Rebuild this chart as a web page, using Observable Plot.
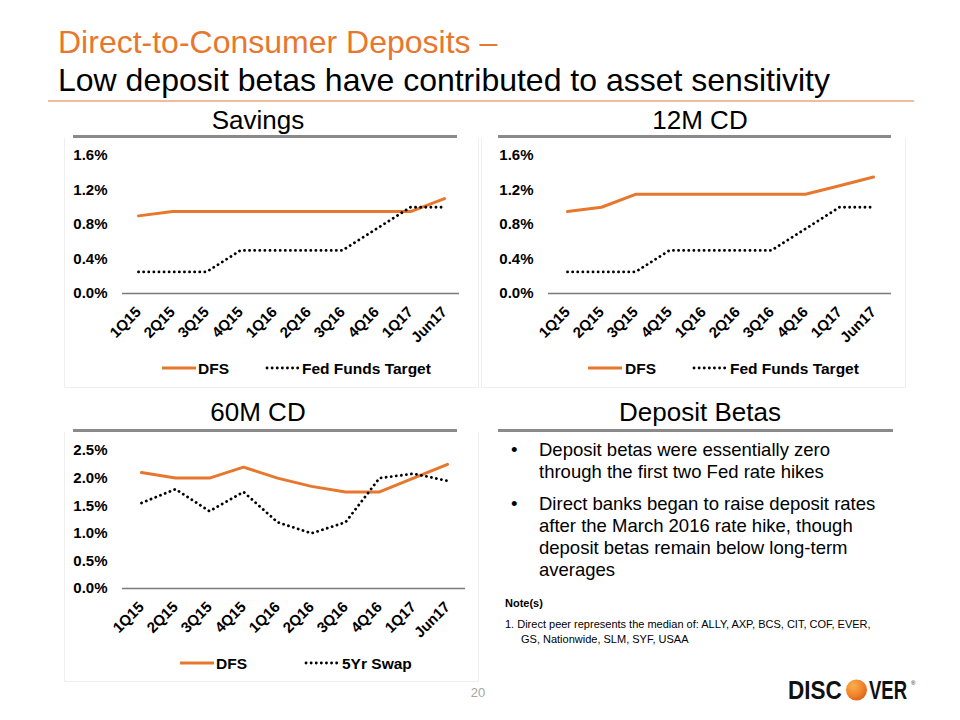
<!DOCTYPE html>
<html>
<head>
<meta charset="utf-8">
<script src="https://cdn.jsdelivr.net/npm/d3@7"></script>
<script src="https://cdn.jsdelivr.net/npm/@observablehq/plot@0.6"></script>
<style>
  html, body { margin: 0; padding: 0; background: #fff; }
  #page { position: relative; width: 960px; height: 720px; overflow: hidden; font-family: "Liberation Sans", Arial, sans-serif; }
  #overlay { position: absolute; left: 0; top: 0; }
  .chart { position: absolute; }
  .chart svg { overflow: visible; }
</style>
</head>
<body>
<div id="page">
  <svg id="overlay" width="960" height="720" font-family="Liberation Sans, Arial, sans-serif">
    <defs>
      <radialGradient id="discO" cx="0.35" cy="0.3" r="0.8">
        <stop offset="0" stop-color="#FBB04C"/>
        <stop offset="0.6" stop-color="#F0812A"/>
        <stop offset="1" stop-color="#DD5A14"/>
      </radialGradient>
    </defs>
    <!-- faint chart boxes -->
    <path d="M64.5,138V387.5H478.5V138" fill="none" stroke="#eeeeee" stroke-width="1"/>
    <path d="M481.5,138V387.5H905.5V138" fill="none" stroke="#eeeeee" stroke-width="1"/>
    <path d="M64.5,432V681.5H478.5V432" fill="none" stroke="#eeeeee" stroke-width="1"/>

    <!-- title -->
    <text x="58" y="53" font-size="32" fill="#E8772E">Direct-to-Consumer Deposits –</text>
    <text x="58" y="91" font-size="32" fill="#000">Low deposit betas have contributed to asset sensitivity</text>
    <line x1="48" x2="914" y1="101" y2="101" stroke="#E9A77A" stroke-width="1.5"/>

    <!-- panel headings -->
    <text x="258" y="129" font-size="26" text-anchor="middle">Savings</text>
    <text x="700" y="129" font-size="26" text-anchor="middle">12M CD</text>
    <text x="258" y="421" font-size="26" text-anchor="middle">60M CD</text>
    <text x="700" y="421" font-size="26" text-anchor="middle">Deposit Betas</text>
    <line x1="73" x2="457" y1="136.5" y2="136.5" stroke="#8a8a8a" stroke-width="3"/>
    <line x1="498" x2="891" y1="136.5" y2="136.5" stroke="#8a8a8a" stroke-width="3"/>
    <line x1="73" x2="457" y1="430.5" y2="430.5" stroke="#8a8a8a" stroke-width="3"/>
    <line x1="498" x2="893" y1="430.5" y2="430.5" stroke="#8a8a8a" stroke-width="3"/>

    <!-- legends -->
    <g font-size="15.5" font-weight="bold">
      <line x1="162" x2="196" y1="368" y2="368" stroke="#E8772E" stroke-width="3"/>
      <text x="198" y="373.5">DFS</text>
      <line x1="267" x2="298" y1="368" y2="368" stroke="#000" stroke-width="2.8" stroke-linecap="round" stroke-dasharray="0.1,5"/>
      <text x="302" y="373.5">Fed Funds Target</text>

      <line x1="588" x2="622" y1="368" y2="368" stroke="#E8772E" stroke-width="3"/>
      <text x="625" y="373.5">DFS</text>
      <line x1="694" x2="725" y1="368" y2="368" stroke="#000" stroke-width="2.8" stroke-linecap="round" stroke-dasharray="0.1,5"/>
      <text x="730" y="373.5">Fed Funds Target</text>

      <line x1="180" x2="214" y1="663" y2="663" stroke="#E8772E" stroke-width="3"/>
      <text x="216" y="668.5">DFS</text>
      <line x1="306" x2="337" y1="663" y2="663" stroke="#000" stroke-width="2.8" stroke-linecap="round" stroke-dasharray="0.1,5"/>
      <text x="342" y="668.5">5Yr Swap</text>
    </g>

    <!-- Deposit betas text -->
    <g font-size="18.5" fill="#000">
      <text x="511" y="456">•</text>
      <text x="539" y="456">Deposit betas were essentially zero</text>
      <text x="539" y="478">through the first two Fed rate hikes</text>
      <text x="511" y="510">•</text>
      <text x="539" y="510">Direct banks began to raise deposit rates</text>
      <text x="539" y="532">after the March 2016 rate hike, though</text>
      <text x="539" y="554">deposit betas remain below long-term</text>
      <text x="539" y="576">averages</text>
    </g>
    <text x="505" y="607" font-size="11" font-weight="bold">Note(s)</text>
    <g font-size="11">
      <text x="505" y="628">1. Direct peer represents the median of:  ALLY, AXP, BCS, CIT, COF, EVER,</text>
      <text x="521" y="643">GS, Nationwide,  SLM, SYF, USAA</text>
    </g>

    <!-- page number -->
    <text x="478" y="697" font-size="13" fill="#a6a6a6" text-anchor="middle">20</text>

    <!-- logo -->
    <g font-size="26.5" font-weight="bold" fill="#111">
      <text transform="translate(788,699) scale(0.85,1)">DISC</text>
      <circle cx="856.5" cy="690" r="10.5" fill="url(#discO)"/>
      <text transform="translate(869,699) scale(0.70,1)">VER</text>
    </g>
    <text x="911" y="685" font-size="6" fill="#111">®</text>
  </svg>

  <div id="savings" class="chart" style="left:60px; top:140px;"></div>
  <div id="cd12" class="chart" style="left:480px; top:140px;"></div>
  <div id="cd60" class="chart" style="left:60px; top:440px;"></div>
</div>

<script>
// ---- data ----
const quarters = ["1Q15","2Q15","3Q15","4Q15","1Q16","2Q16","3Q16","4Q16","1Q17","Jun17"];

const savingsDFS      = [0.90, 0.95, 0.95, 0.95, 0.95, 0.95, 0.95, 0.95, 0.95, 1.10];
const savingsFedFunds = [0.25, 0.25, 0.25, 0.50, 0.50, 0.50, 0.50, 0.75, 1.00, 1.00];

const cd12DFS      = [0.95, 1.00, 1.15, 1.15, 1.15, 1.15, 1.15, 1.15, 1.25, 1.35];
const cd12FedFunds = [0.25, 0.25, 0.25, 0.50, 0.50, 0.50, 0.50, 0.75, 1.00, 1.00];

const cd60DFS  = [2.10, 2.00, 2.00, 2.20, 2.00, 1.85, 1.75, 1.75, 2.00, 2.25];
const cd60Swap = [1.55, 1.80, 1.40, 1.75, 1.20, 1.00, 1.20, 2.00, 2.08, 1.95];

const savingsTicks = [0, 0.4, 0.8, 1.2, 1.6];
const cd12Ticks    = [0, 0.4, 0.8, 1.2, 1.6];
const cd60Ticks    = [0, 0.5, 1.0, 1.5, 2.0, 2.5];

const ORANGE = "#E8772E";

function lineChart({dfs, other, ticks, width, height, marginLeft, marginRight, marginTop, marginBottom}) {
  const dfsData = quarters.map((q, i) => ({q, v: dfs[i]}));
  const otherData = quarters.map((q, i) => ({q, v: other[i]}));
  return Plot.plot({
    width, height, marginLeft, marginRight, marginTop, marginBottom,
    style: {fontFamily: "Liberation Sans, Arial, sans-serif", fontSize: "15px", fontWeight: "bold", color: "#000", background: "transparent", overflow: "visible"},
    x: {type: "point", domain: quarters, padding: 0.45, label: null, tickSize: 0, tickRotate: -45, tickPadding: 16},
    y: {domain: [ticks[0], ticks[ticks.length - 1]], ticks, tickFormat: d => d.toFixed(1) + "%", tickSize: 0, tickPadding: 15, label: null},
    marks: [
      Plot.ruleY([0], {stroke: "#7a7a7a", strokeWidth: 1.5}),
      Plot.line(dfsData, {x: "q", y: "v", stroke: ORANGE, strokeWidth: 3}),
      Plot.line(otherData, {x: "q", y: "v", stroke: "#000", strokeWidth: 2.8, strokeLinecap: "round", strokeDasharray: "0.1,5"})
    ]
  });
}

document.getElementById("savings").append(lineChart({
  dfs: savingsDFS, other: savingsFedFunds, ticks: savingsTicks,
  width: 410, height: 210, marginLeft: 62, marginRight: 11, marginTop: 15, marginBottom: 57
}));
document.getElementById("cd12").append(lineChart({
  dfs: cd12DFS, other: cd12FedFunds, ticks: cd12Ticks,
  width: 420, height: 210, marginLeft: 68, marginRight: 9, marginTop: 15, marginBottom: 57
}));
document.getElementById("cd60").append(lineChart({
  dfs: cd60DFS, other: cd60Swap, ticks: cd60Ticks,
  width: 420, height: 210, marginLeft: 62, marginRight: 15, marginTop: 10, marginBottom: 62
}));
</script>
</body>
</html>
